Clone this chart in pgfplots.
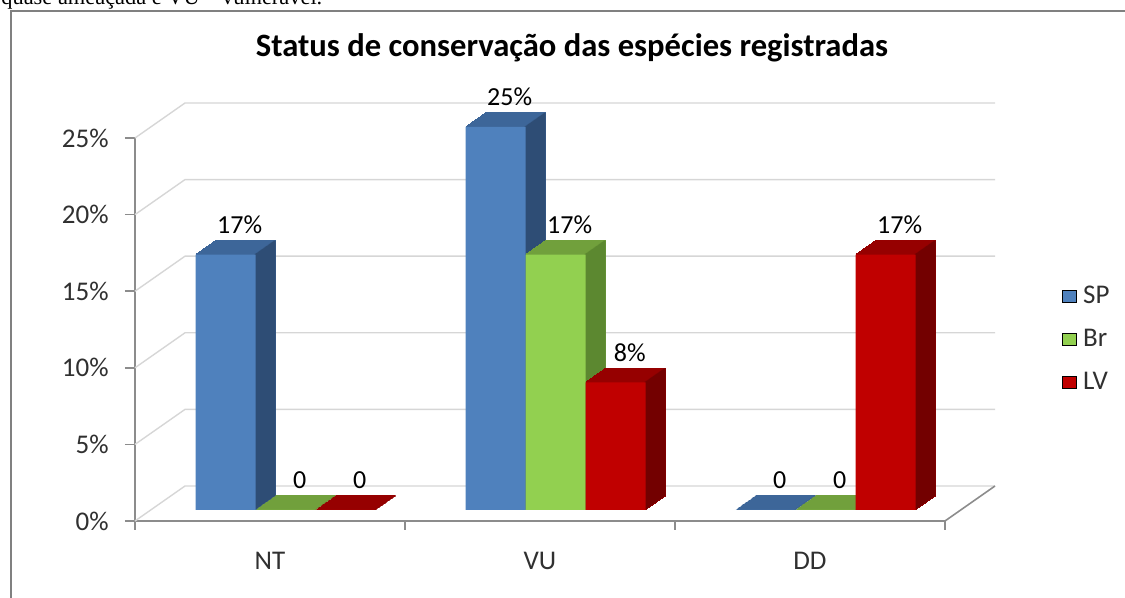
\documentclass[border=0pt]{standalone}
\usepackage{pgfplots}
\pgfplotsset{compat=1.18}
\usepackage{pgfplotstable}
\usepackage{fontspec}
\setmainfont{Carlito}
\newfontfamily\timesfont{Liberation Serif}

\definecolor{spfront}{HTML}{4F81BD}
\definecolor{sptop}{HTML}{3D6699}
\definecolor{spside}{HTML}{2E4D75}
\definecolor{brfront}{HTML}{92D050}
\definecolor{brtop}{HTML}{71A03C}
\definecolor{brside}{HTML}{5C8830}
\definecolor{lvfront}{HTML}{C00000}
\definecolor{lvtop}{HTML}{960000}
\definecolor{lvside}{HTML}{730000}
\definecolor{axgray}{HTML}{8C8C8C}
\definecolor{gridgray}{HTML}{D6D6D6}
\definecolor{framegray}{HTML}{808080}
\definecolor{txt}{HTML}{303030}

\pgfplotstableread{
x   SP    Br    LV    SPl   Brl   LVl
0.5 16.67 0     0     17\%  0     0
1.5 25    16.67 8.33  25\%  17\%  8\%
2.5 0     0     16.67 0     0     17\%
}\data

\begin{document}
\begin{tikzpicture}[x=1pt,y=1pt]
\useasboundingbox (0,0) rectangle (562.5,299);
\clip (0,0) rectangle (562.5,299);
\node[anchor=base west, inner sep=0, font=\timesfont\fontsize{11.2}{13}\selectfont] at (0.5,296.5) {quase ameaçada e VU – vulnerável.};
\draw[framegray, line width=1pt] (5.5,-5) -- (5.5,293.5) -- (570,293.5);
\node[font=\bfseries\fontsize{16.3}{19}\selectfont, text=black] at (286,275) {Status de conservação das espécies registradas};
\begin{axis}[
  at={(67.5pt,38.5pt)}, anchor=south west, scale only axis,
  width=405pt, height=191.5pt,
  xmin=0, xmax=3, ymin=0, ymax=25,
  clip=false,
  axis x line*=bottom, axis y line*=left,
  axis line style={axgray, line width=0.8pt, -},
  tick style={axgray, line width=0.8pt},
  tick align=outside,
  major tick length=5pt, minor tick length=4.5pt,
  ytick={0,5,...,25},
  yticklabels={0\%,5\%,10\%,15\%,20\%,25\%},
  xtick={0.5,1.5,2.5},
  xticklabels={NT,VU,DD},
  minor xtick={0,1,2,3},
  major x tick style={draw=none},
  ticklabel style={font=\fontsize{13.5}{15}\selectfont, text=txt},
  yticklabel style={anchor=east, inner sep=0pt, xshift=-8pt},
  xticklabel style={anchor=center, inner sep=0pt, yshift=-15pt},
  legend style={at={(axis description cs:1.1444,0.621)}, anchor=north west,
    draw=none, fill=none, inner sep=0pt, row sep=8.5pt,
    font=\fontsize{13.5}{15}\selectfont, text=txt,
    nodes={inner sep=1pt, text height=9pt, text depth=2pt},
    /tikz/every odd column/.append style={column sep=2pt}},
  legend cell align=left,
  legend image code/.code={\fill[#1] (0pt,-3pt) rectangle (7pt,3pt);},
  every node near coord/.append style={anchor=center, yshift=15pt,
    font=\fontsize{13}{15}\selectfont, text=black},
]
% back wall and floor
\pgfplotsinvokeforeach{0,5,...,25}{
  \draw[gridgray, line width=0.7pt] (axis cs:0,#1) -- ([shift={(25pt,17.5pt)}]axis cs:0,#1) -- ([shift={(25pt,17.5pt)}]axis cs:3,#1);
}
\draw[axgray, line width=0.8pt] (axis cs:3,0) -- ([shift={(25pt,17.5pt)}]axis cs:3,0);

% ---- SP
\pgfplotsinvokeforeach{1,...,20}{
  \addplot[forget plot, ybar, bar width=30pt, bar shift=-30pt, draw=sptop, fill=sptop, line width=0.6pt,
    xshift={7.85pt+#1*0.5pt}, yshift={5.5pt+#1*0.35pt}] table[x=x,y=SP]{\data};
}
\pgfplotsinvokeforeach{1,...,20}{
  \addplot[forget plot, ybar, bar width=1pt, bar shift=-15.5pt, draw=none, fill=spside,
    xshift={7.85pt+#1*0.5pt}, yshift={5.5pt+#1*0.35pt}] table[x=x,y=SP]{\data};
}
\addplot[forget plot, ybar, bar width=30pt, bar shift=-30pt, draw=none, fill=spfront,
  xshift=7.85pt, yshift=5.5pt, nodes near coords, point meta=explicit symbolic,
  every node near coord/.append style={xshift=-23pt}]
  table[x=x,y=SP,meta=SPl]{\data};

% ---- Br
\pgfplotsinvokeforeach{1,...,20}{
  \addplot[forget plot, ybar, bar width=30pt, bar shift=0pt, draw=brtop, fill=brtop, line width=0.6pt,
    xshift={7.85pt+#1*0.5pt}, yshift={5.5pt+#1*0.35pt}] table[x=x,y=Br]{\data};
}
\pgfplotsinvokeforeach{1,...,20}{
  \addplot[forget plot, ybar, bar width=1pt, bar shift=14.5pt, draw=none, fill=brside,
    xshift={7.85pt+#1*0.5pt}, yshift={5.5pt+#1*0.35pt}] table[x=x,y=Br]{\data};
}
\addplot[forget plot, ybar, bar width=30pt, bar shift=0pt, draw=none, fill=brfront,
  xshift=7.85pt, yshift=5.5pt, nodes near coords, point meta=explicit symbolic,
  every node near coord/.append style={xshift=7pt}]
  table[x=x,y=Br,meta=Brl]{\data};

% ---- LV
\pgfplotsinvokeforeach{1,...,20}{
  \addplot[forget plot, ybar, bar width=30pt, bar shift=30pt, draw=lvtop, fill=lvtop, line width=0.6pt,
    xshift={7.85pt+#1*0.5pt}, yshift={5.5pt+#1*0.35pt}] table[x=x,y=LV]{\data};
}
\pgfplotsinvokeforeach{1,...,20}{
  \addplot[forget plot, ybar, bar width=1pt, bar shift=44.5pt, draw=none, fill=lvside,
    xshift={7.85pt+#1*0.5pt}, yshift={5.5pt+#1*0.35pt}] table[x=x,y=LV]{\data};
}
\addplot[forget plot, ybar, bar width=30pt, bar shift=30pt, draw=none, fill=lvfront,
  xshift=7.85pt, yshift=5.5pt, nodes near coords, point meta=explicit symbolic,
  every node near coord/.append style={xshift=37pt}]
  table[x=x,y=LV,meta=LVl]{\data};

\addlegendimage{fill=spfront}
\addlegendimage{fill=brfront}
\addlegendimage{fill=lvfront}
\legend{SP,Br,LV}
\end{axis}
\end{tikzpicture}
\end{document}
